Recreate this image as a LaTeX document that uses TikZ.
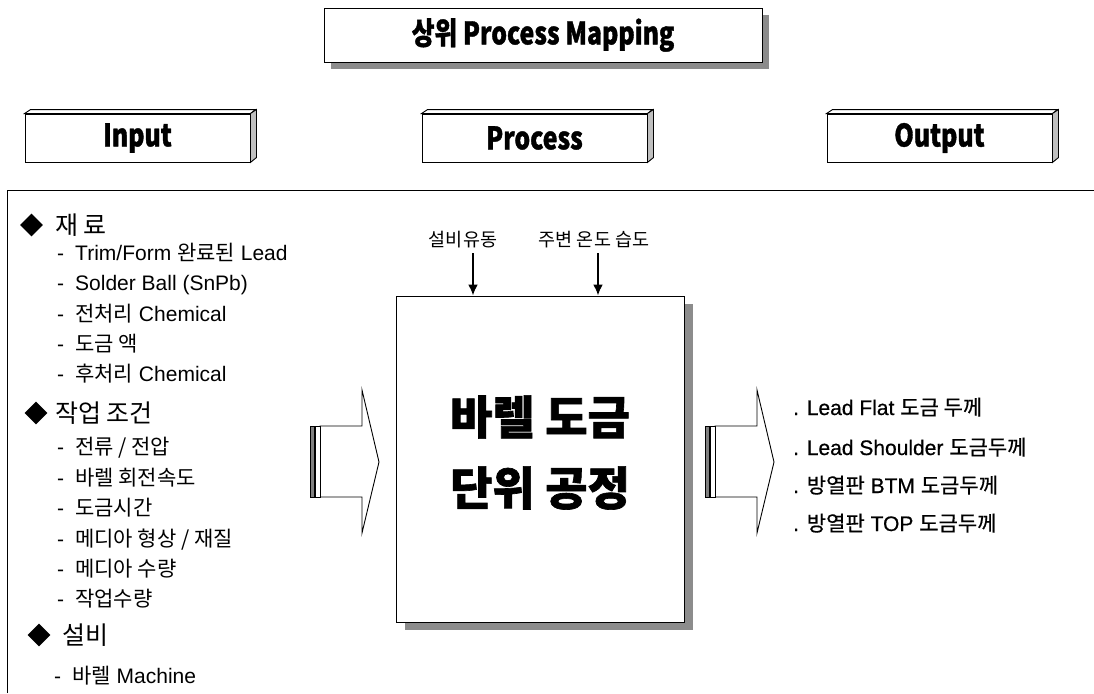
\documentclass[tikz,border=0pt]{standalone}
\usepackage{fontspec}
\setmainfont{Liberation Sans}
\newfontfamily\ko{Noto Sans CJK KR}
\newfontfamily\hv[FakeStretch=0.8,FakeBold=1.2]{Noto Sans CJK KR}
\newfontfamily\kohv[FakeBold=1.4]{Noto Sans CJK KR}
\newfontfamily\semi[FakeBold=0.6]{Liberation Sans}
\newfontfamily\kosemi[FakeBold=0.6]{Noto Sans CJK KR}
\usetikzlibrary{shapes.geometric,arrows.meta}
\newcommand{\dsh}{\makebox[18pt][l]{-}}
\begin{document}
\begin{tikzpicture}[x=1pt,y=-1pt,
  txt/.style={inner sep=0,anchor=base west},
  item/.style={txt,font=\fontsize{21}{25}\selectfont},
  headtxt/.style={txt,font=\ko\fontsize{25}{30}\selectfont},
  dia/.style={diamond,fill=black,inner sep=0,minimum width=23pt,minimum height=23pt},
  shadowfill/.style={fill=black!45},
  hdr/.style={draw,line width=0.9pt,fill=white,minimum width=225pt,minimum height=48pt,inner sep=0,font=\hv\bfseries\fontsize{31}{31}\selectfont},
  outtxt/.style={txt,font=\semi\fontsize{21}{25}\selectfont},
  lab/.style={inner sep=0,font=\ko\fontsize{18.5}{22}\selectfont},
  arr/.style={line width=2pt,-{Latex[length=11pt,width=10pt]}},
  blk/.style={draw,line width=0.9pt,fill=white}
]
\useasboundingbox (0,0) rectangle (1094,693);

% title
\fill[shadowfill] (331,15) rectangle (769,69);
\node[draw,line width=0.9pt,fill=white,minimum width=438pt,minimum height=54pt,inner sep=0,
  font=\hv\bfseries\fontsize{31}{31}\selectfont] (title) at (543,35) {상위 Process Mapping};

% header cubes
\foreach \nm/\cx/\tx in {inp/137.5/Input,proc/534.5/Process,outp/939.5/Output}{
  \node[hdr] (\nm) at (\cx,138) {\tx};
  \draw[line width=0.9pt,fill=white] (\nm.north west) -- ++(6,-4) -- ++(225,0) -- (\nm.north east) -- cycle;
  \draw[line width=0.9pt,fill=black!25] (\nm.north east) -- ++(6,-4) -- ++(0,48) -- (\nm.south east) -- cycle;
}

% frame
\draw[line width=1pt] (7,693) -- (7,190) -- (1094,190);

% left list
\node[dia] (d1) at (31.5,225) {};
\node[headtxt] (h1) at (55,234) {재 료};
\node[item] (i1) at (57,260) {\dsh Trim/Form {\ko 완료된} Lead};
\node[item] (i2) at (57,290) {\dsh Solder Ball (SnPb)};
\node[item] (i3) at (57,321) {\dsh {\ko 전처리} Chemical};
\node[item] (i4) at (57,351) {\dsh {\ko 도금 액}};
\node[item] (i5) at (57,381) {\dsh {\ko 후처리} Chemical};
\node[dia] (d2) at (36,413) {};
\node[headtxt] (h2) at (55,422) {작업 조건};
\node[item] (j1) at (57,454) {\dsh {\ko 전류 / 전압}};
\node[item] (j2) at (57,485) {\dsh {\ko 바렐 회전속도}};
\node[item] (j3) at (57,515) {\dsh {\ko 도금시간}};
\node[item] (j4) at (57,546) {\dsh {\ko 메디아 형상 / 재질}};
\node[item] (j5) at (57,576) {\dsh {\ko 메디아 수량}};
\node[item] (j6) at (57,606) {\dsh {\ko 작업수량}};
\node[dia] (d3) at (39,635) {};
\node[headtxt] (h3) at (62,644) {설비};
\node[item] (k1) at (54,683) {\dsh {\ko 바렐} Machine};

% main box
\fill[shadowfill] (405,304) rectangle (693,630);
\node[draw,line width=1pt,fill=white,minimum width=288pt,minimum height=326pt,inner sep=0] (box) at (540,459) {};
\node[inner sep=0,font=\kohv\bfseries\fontsize{46}{46}\selectfont] (t1) at (540,417) {바렐 도금};
\node[inner sep=0,font=\kohv\bfseries\fontsize{46}{46}\selectfont] (t2) at (540,488) {단위 공정};

% top labels and arrows
\node[lab] (l1) at (463,240) {설비유동};
\node[lab] (l2) at (594,240) {주변 온도 습도};
\coordinate (a1) at (473,253);
\coordinate (a2) at (598,253);
\draw[arr] (a1) -- (a1 |- box.north);
\draw[arr] (a2) -- (a2 |- box.north);

% block arrows
\foreach \dx in {0,395}{
  \begin{scope}[xshift=\dx]
  \draw[blk] (320,426) -- (362,426) -- (362,390) -- (379,462) -- (362,533) -- (362,497) -- (320,497) -- cycle;
  \draw[line width=0.8pt,fill=black!50] (310,426) rectangle (314,497);
  \draw[line width=0.8pt,fill=white] (315.5,426) rectangle (320,497);
  \end{scope}
}

% outputs
\node[outtxt] (o1) at (793,415) {. Lead Flat {\kosemi 도금 두께}};
\node[outtxt] (o2) at (793,455) {. Lead Shoulder {\kosemi 도금두께}};
\node[outtxt] (o3) at (793,493) {. {\kosemi 방열판} BTM {\kosemi 도금두께}};
\node[outtxt] (o4) at (793,531) {. {\kosemi 방열판} TOP {\kosemi 도금두께}};
\end{tikzpicture}
\end{document}
